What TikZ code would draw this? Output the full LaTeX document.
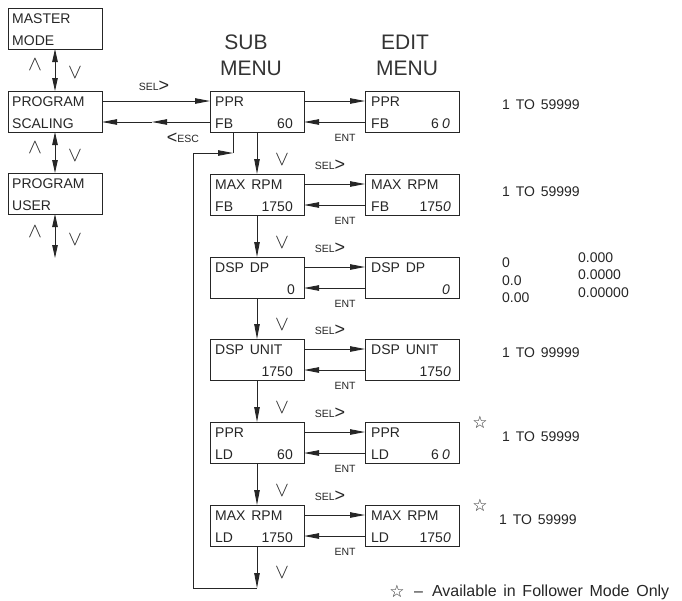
\documentclass[tikz,border=0pt]{standalone}
\usepackage{fontspec}
\setmainfont[WordSpace=1.5]{Liberation Sans}
\newfontfamily\symfont{DejaVu Sans}
\usetikzlibrary{arrows.meta}
\newcommand\MenuBox[8]{% name, x, y, row1, row2 left, row2 right, left inset, right inset
  \node[box] (#1) at (#2,#3) {};
  \node[txt,anchor=base west] (#1a) at ([xshift=#7pt,yshift=-15pt]#1.north west) {#4};
  \node[txt,anchor=base west] (#1b) at ([xshift=#7pt,yshift=-37pt]#1.north west) {#5};
  \node[txt,anchor=base east] (#1c) at ([xshift=-#8pt,yshift=-37pt]#1.north east) {#6};
}
\begin{document}
\begin{tikzpicture}[x=1pt,y=-1pt,
  box/.style={draw=black!85, line width=0.9pt, minimum width=94pt, minimum height=41pt,
    anchor=north west, inner sep=0pt, outer sep=0pt},
  txt/.style={inner sep=0pt, font=\fontsize{14}{14}\selectfont, text=black!85},
  head/.style={inner sep=0pt, anchor=base, font=\fontsize{21}{21}\selectfont, text=black!80},
  lab/.style={inner sep=0pt, text=black!85},
  chev/.style={inner sep=0pt, font=\fontsize{21}{21}\selectfont, text=black!85},
  note/.style={inner sep=0pt, font=\fontsize{14}{14}\selectfont, text=black!85},
  starsym/.style={inner sep=0pt, font=\symfont\fontsize{17}{17}\selectfont, text=black!85},
  link/.style={draw=black!85, line width=0.9pt},
  arr/.style={link, -{Triangle[length=15pt,width=5.5pt]}},
  darr/.style={link, {Triangle[length=13pt,width=5.5pt]}-{Triangle[length=13pt,width=5.5pt]}},
]
\useasboundingbox (0,0) rectangle (682,600);

\newcommand\sel{{\fontsize{10.5}{11}\selectfont SEL}\raisebox{-1pt}{\fontsize{18}{18}\selectfont >}}
\newcommand\esc{\raisebox{-1pt}{\fontsize{18}{18}\selectfont <}{\fontsize{10.5}{11}\selectfont ESC}}
\newcommand\ent{{\fontsize{10.5}{11}\selectfont ENT}}
\newcommand\up{$\wedge$}
\newcommand\dn{$\vee$}

% headings
\node[head] (hs1) at (246,49) {SUB};
\node[head] (hs2) at (251,75) {MENU};
\node[head] (he1) at (405,49) {EDIT};
\node[head] (he2) at (407,75) {MENU};

% left column
\MenuBox{L1}{8}{8}{MASTER}{MODE}{}{4}{0}
\MenuBox{L2}{8}{91}{PROGRAM}{SCALING}{}{4}{0}
\MenuBox{L3}{8}{173}{PROGRAM}{USER}{}{4}{0}
\coordinate (Ldown) at (55,258);
\draw[darr] (L1.south) -- (L2.north);
\draw[darr] (L2.south) -- (L3.north);
\draw[darr] (L3.south) -- (Ldown);
\node[chev] (up1) at (35,65) {\up};
\node[chev] (dn1) at (75,73) {\dn};
\node[chev] (up2) at (35,148) {\up};
\node[chev] (dn2) at (75,156) {\dn};
\node[chev] (up3) at (35,232) {\up};
\node[chev] (dn3) at (75,240) {\dn};

% sub menu column
\MenuBox{S1}{210}{91}{PPR}{FB}{60}{5}{11}
\MenuBox{S2}{210}{174}{MAX RPM}{FB}{1750}{5}{11}
\MenuBox{S3}{210}{257}{DSP DP}{}{0}{5}{9}
\MenuBox{S4}{210}{339}{DSP UNIT}{}{1750}{5}{11}
\MenuBox{S5}{210}{422}{PPR}{LD}{60}{5}{11}
\MenuBox{S6}{210}{505}{MAX RPM}{LD}{1750}{5}{11}

% edit menu column
\MenuBox{E1}{365}{91}{PPR}{FB}{6\hspace{3pt}\textit{0}}{6}{9}
\MenuBox{E2}{365}{174}{MAX RPM}{FB}{175\textit{0}}{6}{8}
\MenuBox{E3}{365}{257}{DSP DP}{}{\textit{0}}{6}{9}
\MenuBox{E4}{365}{339}{DSP UNIT}{}{175\textit{0}}{6}{8}
\MenuBox{E5}{365}{422}{PPR}{LD}{6\hspace{3pt}\textit{0}}{6}{9}
\MenuBox{E6}{365}{505}{MAX RPM}{LD}{175\textit{0}}{6}{8}

% left <-> sub
\coordinate (escmid) at (152,122);
\draw[arr] ([yshift=-10pt]L2.north east) -- ([yshift=-10pt]S1.north west);
\draw[arr] ([yshift=-31pt]S1.north west) -- (escmid);
\draw[arr] (escmid) -- ([yshift=-31pt]L2.north east);
\node[lab] (selL) at (154,86) {\sel};
\node[lab] (escL) at (183,138) {\esc};

% sub <-> edit
\foreach \i in {1,...,6}{
  \draw[arr] ([yshift=-10pt]S\i.north east) -- ([yshift=-10pt]E\i.north west);
  \draw[arr] ([yshift=-31pt]E\i.north west) -- ([yshift=-31pt]S\i.north east);
  \node[lab] (ent\i) at ([xshift=41pt,yshift=-6pt]S\i.south east) {\ent};
}
\foreach \i in {2,...,6}{
  \node[lab] (sel\i) at ([xshift=26pt,yshift=9pt]S\i.north east) {\sel};
}

% vertical chain
\draw[arr] (S1.south) -- (S2.north);
\draw[arr] (S2.south) -- (S3.north);
\draw[arr] (S3.south) -- (S4.north);
\draw[arr] (S4.south) -- (S5.north);
\draw[arr] (S5.south) -- (S6.north);
\node[chev] (v2) at (282,160) {\dn};
\node[chev] (v3) at (282,243) {\dn};
\node[chev] (v4) at (282,325) {\dn};
\node[chev] (v5) at (282,408) {\dn};
\node[chev] (v6) at (282,491) {\dn};
\node[chev] (v7) at (282,573) {\dn};

% return loop
\coordinate (lb) at (257,588);
\coordinate (ll) at (193,588);
\coordinate (lt) at (193,153);
\coordinate (lr) at (233,153);
\draw[arr] (S6.south) -- (lb);
\draw[arr] (lb) -- (ll) -- (lt) -- (lr);
\draw[link] (lr) -- (lr |- S1.south);

% ranges
\node[note,anchor=west] (r1) at (502,105) {1 TO 59999};
\node[note,anchor=west] (r2) at (502,192) {1 TO 59999};
\node[note,anchor=west] (d1) at (502,263) {0};
\node[note,anchor=west] (d2) at (502,281) {0.0};
\node[note,anchor=west] (d3) at (502,298) {0.00};
\node[note,anchor=west] (d4) at (578,258) {0.000};
\node[note,anchor=west] (d5) at (578,275) {0.0000};
\node[note,anchor=west] (d6) at (578,293) {0.00000};
\node[note,anchor=west] (r4) at (502,353) {1 TO 99999};
\node[starsym] (st5) at (480,422) {☆};
\node[note,anchor=west] (r5) at (502,437) {1 TO 59999};
\node[starsym] (st6) at (480,505) {☆};
\node[note,anchor=west] (r6) at (499,520) {1 TO 59999};

% footnote
\node[starsym] (fst) at (397,591) {☆};
\node[note,anchor=west,font=\fontsize{16}{16}\selectfont] (fnote) at (414,592) {–\hspace{9pt}Available in Follower Mode Only};
\end{tikzpicture}
\end{document}
